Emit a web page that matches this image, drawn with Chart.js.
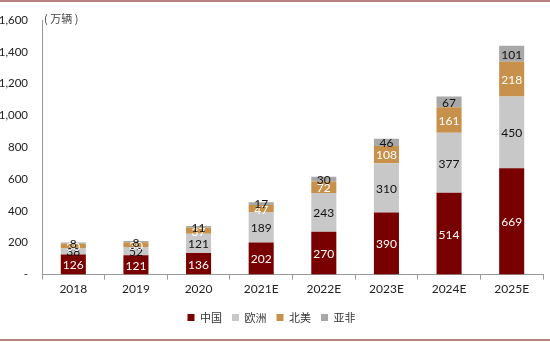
<!DOCTYPE html>
<html lang="zh">
<head>
<meta charset="UTF-8">
<title>新能源汽车销量</title>
<script src="https://cdn.jsdelivr.net/npm/chart.js"></script>
<style>
  body { margin: 0; background: #fff; }
  #wrap { position: relative; width: 550px; height: 342px; }
  #wrap:before, #wrap:after { content: ''; position: absolute; left: 0; right: 0; height: 2px; background: #b98080; }
  #wrap:before { top: 0; }
  #wrap:after { top: 339px; }
</style>
</head>
<body>
<div id="wrap"><canvas id="c" width="550" height="342"></canvas></div>
<script>
const years = ['2018', '2019', '2020', '2021E', '2022E', '2023E', '2024E', '2025E'];
const china = [126, 121, 136, 202, 270, 390, 514, 669];
const europe = [38, 52, 121, 189, 243, 310, 377, 450];
const northAmerica = [30, 30, 37, 47, 72, 108, 161, 218];
const asiaAfrica = [8, 8, 11, 17, 30, 46, 67, 101];
const yTicks = [0, 200, 400, 600, 800, 1000, 1200, 1400, 1600];

// draw numbers in the middle of each segment
const barLabels = {
  id: 'barLabels',
  afterDatasetsDraw(chart) {
    const ctx = chart.ctx;
    ctx.save();
    ctx.font = '12px Lato, "Open Sans", sans-serif';
    ctx.textAlign = 'center';
    ctx.textBaseline = 'middle';
    chart.data.datasets.forEach((ds, i) => {
      chart.getDatasetMeta(i).data.forEach((bar, j) => {
        ctx.fillStyle = ds.labelColor;
        ctx.fillText(ds.data[j], bar.x, (bar.y + bar.base) / 2 + 1);
      });
    });
    // unit label
    ctx.font = '11px "Noto Sans CJK SC", sans-serif';
    ctx.fillStyle = '#444';
    ctx.textAlign = 'left';
    ctx.fillText('( 万辆 )', 44, 19);
    ctx.restore();
  }
};

new Chart(document.getElementById('c'), {
  type: 'bar',
  data: {
    labels: years,
    datasets: [
      { label: '中国', data: china, backgroundColor: '#780000', labelColor: '#fff' },
      { label: '欧洲', data: europe, backgroundColor: '#c8c8c8', labelColor: '#111' },
      { label: '北美', data: northAmerica, backgroundColor: '#c8914b', labelColor: '#fff' },
      { label: '亚非', data: asiaAfrica, backgroundColor: '#a8a8a8', labelColor: '#111' }
    ]
  },
  options: {
    responsive: false,
    animation: false,
    devicePixelRatio: 1,
    layout: { padding: { top: 20, right: 7, bottom: 9, left: 0 } },
    datasets: { bar: { barPercentage: 0.4, categoryPercentage: 1 } },
    plugins: {
      legend: {
        position: 'bottom',
        labels: {
          boxWidth: 7, boxHeight: 7, padding: 10,
          color: '#333',
          font: { family: '"Noto Sans CJK SC", sans-serif', size: 11 }
        }
      },
      tooltip: { enabled: false }
    },
    scales: {
      x: {
        stacked: true,
        afterFit: s => { s.height += 4; },
        grid: { display: true, drawOnChartArea: false, tickLength: 5, color: '#999' },
        border: { color: '#999' },
        ticks: { color: '#222', font: { family: 'Lato, "Open Sans", sans-serif', size: 12 }, padding: 2 }
      },
      y: {
        stacked: true,
        min: 0, max: 1600,
        afterBuildTicks: s => { s.ticks = yTicks.map(v => ({ value: v })); },
        afterFit: s => { s.width = 42; },
        grid: { display: false },
        border: { color: '#999' },
        ticks: {
          color: '#222', padding: 6,
          font: { family: 'Lato, "Open Sans", sans-serif', size: 11.5 },
          callback: v => v === 0 ? '-' : v.toLocaleString('en-US')
        }
      }
    }
  },
  plugins: [barLabels]
});
</script>
</body>
</html>
